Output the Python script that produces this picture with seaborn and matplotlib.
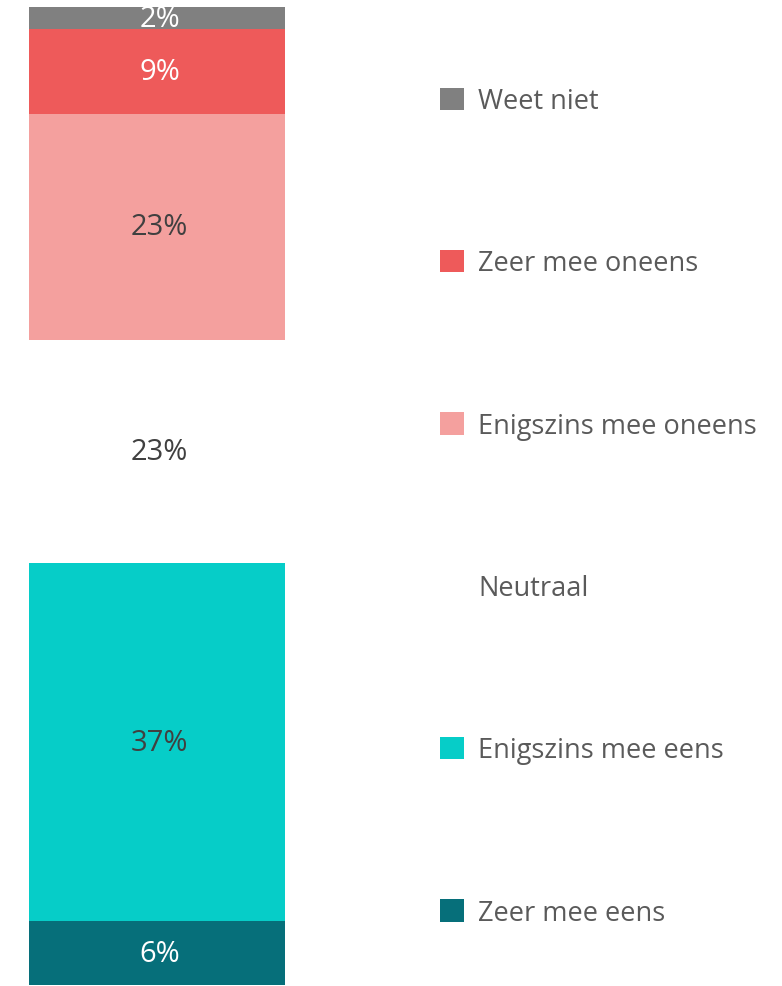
import matplotlib
matplotlib.use("Agg")
import matplotlib.pyplot as plt
import seaborn as sns
from matplotlib.patches import Patch

# answers from bottom to top of the stacked bar
answers = ['Zeer mee eens', 'Enigszins mee eens', 'Neutraal',
           'Enigszins mee oneens', 'Zeer mee oneens', 'Weet niet']
shares = [6.5, 36.6, 22.9, 23.1, 8.6, 2.3]
share_labels = ['6%', '37%', '23%', '23%', '9%', '2%']
colors = ['#066f7a', '#06cdc8', '#ffffff', '#f4a09e', '#ee5a5a', '#808080']
label_colors = ['#ffffff', '#404040', '#404040', '#404040', '#ffffff', '#ffffff']

sns.set_theme(style='white')
plt.rcParams['font.family'] = ['Open Sans', 'DejaVu Sans']

fig = plt.figure(figsize=(7.82, 9.87), dpi=100)
ax = fig.add_axes([29 / 782, 1 / 987, 256 / 782, 978 / 987])

bottom = 0
for val, col, lab, lcol in zip(shares, colors, share_labels, label_colors):
    sns.barplot(x=['q'], y=[val], bottom=bottom, color=col, width=1,
                saturation=1, linewidth=0, edgecolor='none', ax=ax)
    ax.text(0.01, bottom + val / 2, lab, ha='center', va='center',
            fontsize=21, color=lcol)
    bottom += val

ax.set_xlim(-0.5, 0.5)
ax.set_ylim(0, 100)
ax.axis('off')

handles = [Patch(facecolor=c, edgecolor='none', label=a) for a, c in zip(answers, colors)]
leg = fig.legend(handles=handles[::-1], loc='center left',
                 bbox_to_anchor=(440 / 782, 1 - 508 / 987), frameon=False,
                 fontsize=19.5, handlelength=0.88, handleheight=0.88,
                 handletextpad=0.52, labelspacing=4.96, borderpad=0,
                 borderaxespad=0)
for t in leg.get_texts():
    t.set_color('#5a5a5a')

fig.savefig('out.png', dpi=100)
